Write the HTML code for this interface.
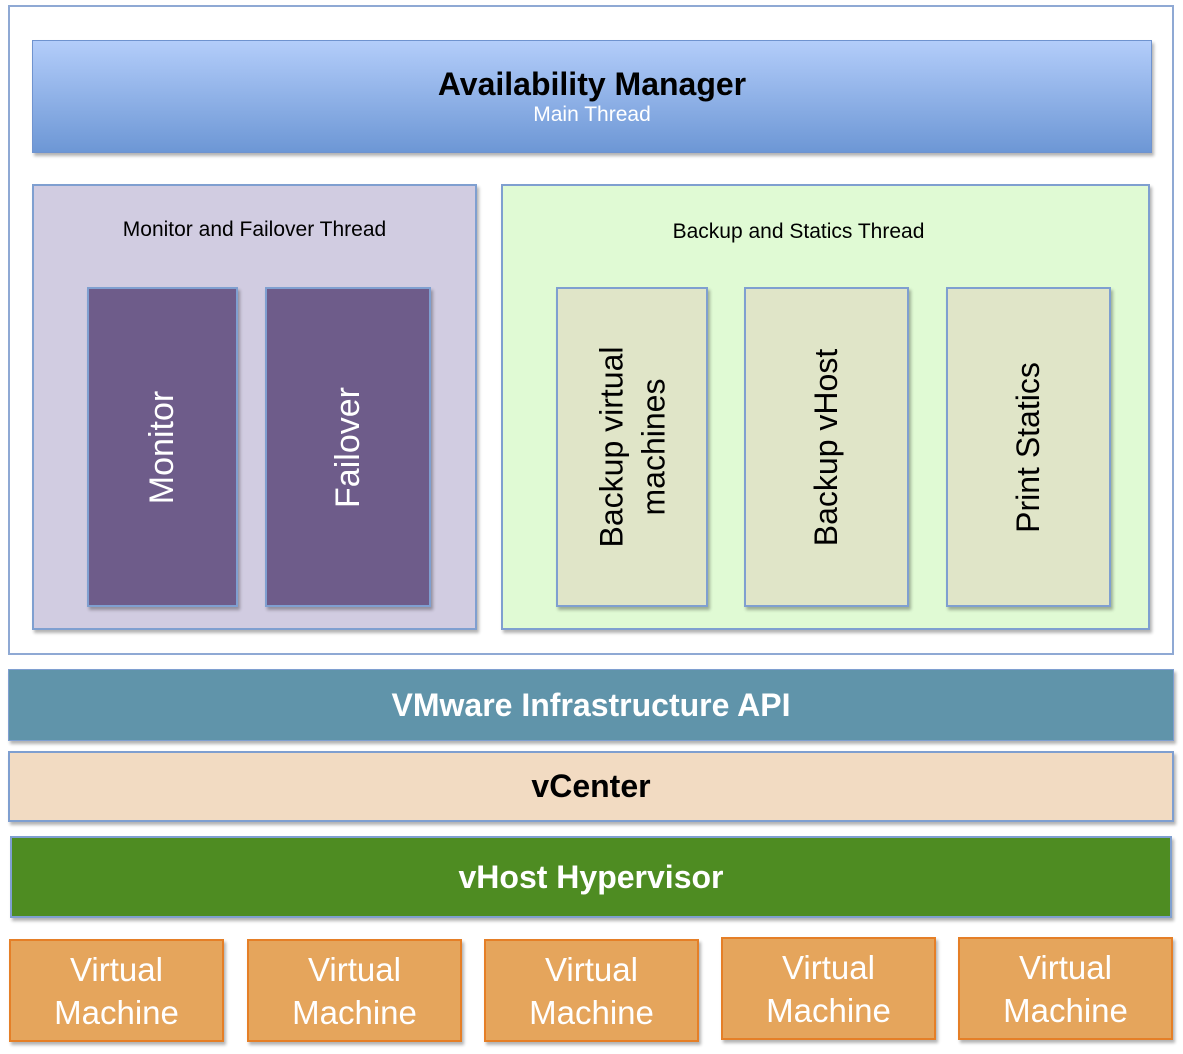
<!DOCTYPE html>
<html><head><meta charset="utf-8"><style>
body{margin:0;width:1183px;height:1054px;background:#fff;font-family:"Liberation Sans",sans-serif;position:relative;overflow:hidden}
div{position:absolute;box-sizing:border-box}
.c{display:flex;align-items:center;justify-content:center;text-align:center}
.sh{box-shadow:2px 3px 3px rgba(0,0,0,.3)}
.r{transform:rotate(-90deg);white-space:nowrap;position:static}
.vm{background:#e5a55c;border:2px solid #e57f27;color:#fff;font-size:33px;line-height:43px;top:939px;height:103px;width:215px}
</style></head><body>
<div style="left:8px;top:5px;width:1166px;height:650px;border:2px solid #8fa9d4"></div>
<div class="c sh" style="left:32px;top:40px;width:1120px;height:113px;border:1px solid #6f93cf;background:linear-gradient(#b3cdfa,#6d97d5);flex-direction:column">
<div style="position:static;font-weight:bold;font-size:32px;color:#000">Availability Manager</div>
<div style="position:static;font-size:21px;color:#fff">Main Thread</div></div>
<div class="sh" style="left:32px;top:184px;width:445px;height:446px;border:2px solid #7f9fd0;background:#d1cce1"></div>
<div style="left:32px;top:218px;width:445px;text-align:center;font-size:21px">Monitor and Failover Thread</div>
<div class="sh" style="left:501px;top:184px;width:649px;height:446px;border:2px solid #7f9fd0;background:#e0fad4"></div>
<div style="left:501px;top:220px;width:595px;text-align:center;font-size:21px;padding-left:0">Backup and Statics Thread</div>
<div class="c sh" style="left:87px;top:287px;width:151px;height:320px;background:#6e5c8a;border:2px solid #7f9fd0;color:#fff;font-size:34px"><div class="r">Monitor</div></div>
<div class="c sh" style="left:265px;top:287px;width:166px;height:320px;background:#6e5c8a;border:2px solid #7f9fd0;color:#fff;font-size:34px"><div class="r">Failover</div></div>
<div class="c sh" style="left:556px;top:287px;width:152px;height:320px;background:#e0e5c8;border:2px solid #7f9fd0;font-size:32px;line-height:42px"><div class="r">Backup virtual<br>machines</div></div>
<div class="c sh" style="left:744px;top:287px;width:165px;height:320px;background:#e0e5c8;border:2px solid #7f9fd0;font-size:32px"><div class="r">Backup vHost</div></div>
<div class="c sh" style="left:946px;top:287px;width:165px;height:320px;background:#e0e5c8;border:2px solid #7f9fd0;font-size:32px"><div class="r">Print Statics</div></div>
<div class="c sh" style="left:8px;top:669px;width:1166px;height:72px;background:#6094aa;border:1px solid #7f9fd0;color:#fff;font-weight:bold;font-size:32px">VMware Infrastructure API</div>
<div class="c sh" style="left:8px;top:751px;width:1166px;height:71px;background:#f2dbc2;border:2px solid #7f9fd0;font-weight:bold;font-size:32px">vCenter</div>
<div class="c sh" style="left:10px;top:836px;width:1162px;height:82px;background:#4e8c22;border:2px solid #7f9fd0;color:#fff;font-weight:bold;font-size:32px">vHost Hypervisor</div>
<div class="vm c sh" style="left:9px">Virtual<br>Machine</div>
<div class="vm c sh" style="left:247px">Virtual<br>Machine</div>
<div class="vm c sh" style="left:484px">Virtual<br>Machine</div>
<div class="vm c sh" style="left:721px;top:937px">Virtual<br>Machine</div>
<div class="vm c sh" style="left:958px;top:937px">Virtual<br>Machine</div>
</body></html>
